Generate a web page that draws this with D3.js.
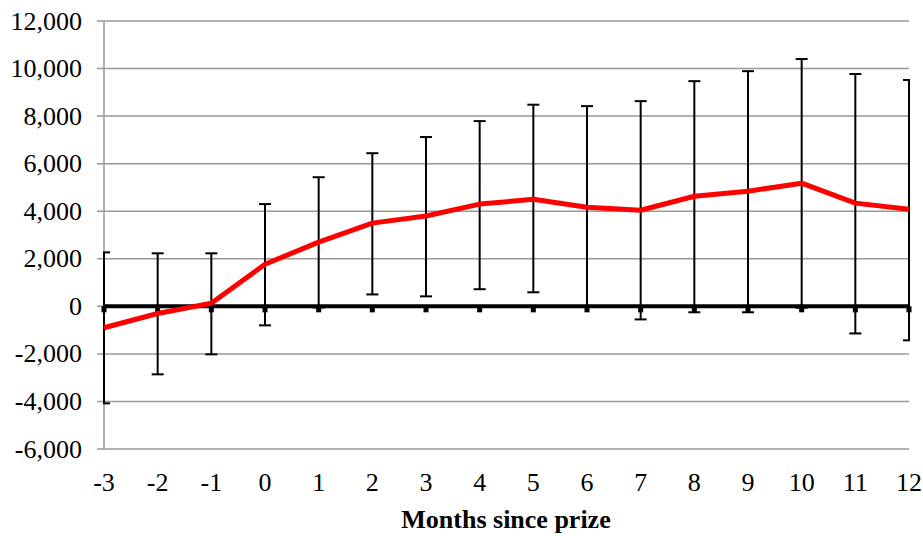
<!DOCTYPE html>
<html>
<head>
<meta charset="utf-8">
<script src="https://cdn.jsdelivr.net/npm/d3@7"></script>
<style>
  html, body { margin: 0; padding: 0; background: #fff; }
  text { font-family: "Liberation Serif", "Times New Roman", serif; }
</style>
</head>
<body>
<svg id="chart" width="923" height="536"></svg>
<script>
// Months relative to the prize month
const months = [-3, -2, -1, 0, 1, 2, 3, 4, 5, 6, 7, 8, 9, 10, 11, 12];
// Estimated effect (point estimate)
const estimate = [-900, -300, 130, 1770, 2700, 3500, 3800, 4300, 4500, 4170, 4040, 4630, 4840, 5180, 4340, 4080];
// Confidence interval bounds
const upper = [2270, 2230, 2230, 4300, 5430, 6440, 7120, 7790, 8480, 8420, 8630, 9470, 9890, 10400, 9770, 9520];
const lower = [-4080, -2860, -2020, -800, -50, 500, 420, 720, 590, -20, -550, -250, -250, -60, -1140, -1430];
// Y axis ticks
const yTicks = [-6000, -4000, -2000, 0, 2000, 4000, 6000, 8000, 10000, 12000];

const svg = d3.select("#chart");
const plotLeft = 104, plotRight = 909, plotTop = 21, plotBottom = 449;

const x = d3.scaleLinear().domain([-3, 12]).range([plotLeft, plotRight]);
const y = d3.scaleLinear().domain([-6000, 12000]).range([plotBottom, plotTop]);

// Thousands separator with a plain hyphen for negatives
const fmt = v => d3.format(",")(v).replace("\u2212", "-");

// Horizontal gridlines
svg.append("g")
  .selectAll("line")
  .data(yTicks)
  .join("line")
  .attr("x1", plotLeft - 7).attr("x2", plotRight)
  .attr("y1", d => y(d)).attr("y2", d => y(d))
  .attr("stroke", "#999").attr("stroke-width", 1.5);

// Left axis line
svg.append("line")
  .attr("x1", plotLeft).attr("x2", plotLeft)
  .attr("y1", plotTop).attr("y2", plotBottom)
  .attr("stroke", "#999").attr("stroke-width", 1.5);

// Y tick labels
svg.append("g")
  .selectAll("text")
  .data(yTicks)
  .join("text")
  .attr("x", 82).attr("y", d => y(d))
  .attr("dy", "0.33em")
  .attr("text-anchor", "end")
  .attr("font-size", 26)
  .text(d => fmt(d));

// X tick labels
svg.append("g")
  .selectAll("text")
  .data(months)
  .join("text")
  .attr("x", d => x(d)).attr("y", 491)
  .attr("text-anchor", "middle")
  .attr("font-size", 26)
  .text(d => fmt(d));

// Axis title
svg.append("text")
  .attr("x", 506).attr("y", 528)
  .attr("text-anchor", "middle")
  .attr("font-size", 26)
  .attr("font-weight", "bold")
  .text("Months since prize");

// Clip for error bars
svg.append("clipPath").attr("id", "plotClip")
  .append("rect")
  .attr("x", plotLeft - 1).attr("y", 0)
  .attr("width", plotRight - plotLeft + 2).attr("height", 536);

const data = months.map((m, i) => ({ m, est: estimate[i], hi: upper[i], lo: lower[i] }));

// Error bars
const eb = svg.append("g").attr("clip-path", "url(#plotClip)");
const cap = 6;
eb.selectAll("line.v")
  .data(data).join("line").attr("class", "v")
  .attr("x1", d => x(d.m)).attr("x2", d => x(d.m))
  .attr("y1", d => y(d.hi)).attr("y2", d => y(d.lo))
  .attr("stroke", "#000").attr("stroke-width", 2);
eb.selectAll("line.hi")
  .data(data).join("line").attr("class", "hi")
  .attr("x1", d => x(d.m) - cap).attr("x2", d => x(d.m) + cap)
  .attr("y1", d => y(d.hi)).attr("y2", d => y(d.hi))
  .attr("stroke", "#000").attr("stroke-width", 2);
eb.selectAll("line.lo")
  .data(data).join("line").attr("class", "lo")
  .attr("x1", d => x(d.m) - cap).attr("x2", d => x(d.m) + cap)
  .attr("y1", d => y(d.lo)).attr("y2", d => y(d.lo))
  .attr("stroke", "#000").attr("stroke-width", 2);

// Zero line (category axis) with tick marks
svg.append("line")
  .attr("x1", plotLeft).attr("x2", plotRight)
  .attr("y1", y(0)).attr("y2", y(0))
  .attr("stroke", "#000").attr("stroke-width", 4);
svg.append("g")
  .selectAll("rect")
  .data(months)
  .join("rect")
  .attr("x", d => x(d) - 2.5).attr("y", y(0))
  .attr("width", 5).attr("height", 6)
  .attr("fill", "#000");

// Estimate line
svg.append("path")
  .datum(data)
  .attr("fill", "none")
  .attr("stroke", "#ff0000")
  .attr("stroke-width", 5)
  .attr("stroke-linejoin", "round")
  .attr("d", d3.line().x(d => x(d.m)).y(d => y(d.est)));
</script>
</body>
</html>
